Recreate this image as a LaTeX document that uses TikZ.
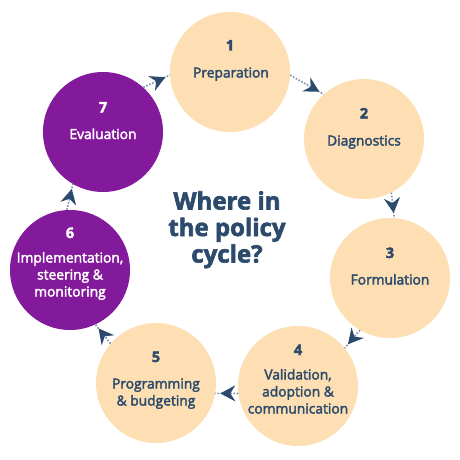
\documentclass[tikz,border=0pt]{standalone}
\usepackage{fontspec}
\setmainfont{Open Sans}
\newfontfamily\labfont{Open Sans}[FakeBold=2.6]
\newfontfamily\ttlfont{Open Sans}[BoldFeatures={FakeBold=2.5}]
\usetikzlibrary{arrows.meta,decorations.markings}
\definecolor{peach}{HTML}{FDDFB3}
\definecolor{plum}{HTML}{821A9B}
\definecolor{navy}{HTML}{2C4A6B}
\definecolor{dotc}{HTML}{7D8FA5}
\begin{document}
\begin{tikzpicture}[x=1pt,y=-1pt,
 stage/.style={circle, minimum size=120pt, inner sep=0pt, draw=none},
 pstage/.style={stage, fill=peach},
 vstage/.style={stage, fill=plum},
 num/.style={anchor=base, inner sep=0pt, text=navy, font=\fontsize{14.5}{14.5}\selectfont\ttlfont\bfseries},
 lab/.style={anchor=base, inner sep=0pt, text=navy, font=\fontsize{13.8}{13.8}\selectfont\labfont},
 ttl/.style={anchor=base, inner sep=0pt, text=navy, font=\fontsize{24}{24}\selectfont\ttlfont\bfseries},
 conn/.style={draw=dotc, line width=1.6pt, dash pattern=on 1.6pt off 1.6pt,
   postaction={decorate},
   decoration={markings, mark=at position -5pt with {\arrow[color=navy]{Stealth[length=15pt,width=16pt,inset=5pt]}}}},
]
\useasboundingbox (0,0) rectangle (460,460);
\fill[white] (0,0) rectangle (460,460);
% stages
\node[pstage] (n1) at (230,72) {};
\node[pstage] (n2) at (364,139) {};
\node[pstage] (n3) at (390,278) {};
\node[pstage] (n4) at (298,386) {};
\node[pstage] (n5) at (156,383) {};
\node[vstage] (n6) at (70,270) {};
\node[vstage] (n7) at (103,132) {};
% connectors
\draw[conn] (n1.-3) -- (n2.132);
\draw[conn] (n2.-63) -- (n3.86);
\draw[conn] (n3.240) -- (n4.39);
\draw[conn] (n4.187) -- (n5.350);
\draw[conn] (n5.139) -- (n6.-65);
\draw[conn] (n6.93) -- (n7.240);
\draw[conn] (n7.48) -- (n1.183);
% texts
\node[num] (t1n) at (230,50.5) {1};
\node[lab] (t1l) at (231,77.5) {Preparation};
\node[num] (t2n) at (364,118.5) {2};
\node[lab] (t2l) at (364,145.5) {Diagnostics};
\node[num] (t3n) at (390,258) {3};
\node[lab] (t3l) at (390,284.5) {Formulation};
\node[num] (t4n) at (298,355) {4};
\node[lab] (t4a) at (298,379.5) {Validation,};
\node[lab] (t4b) at (298,396.5) {adoption \&};
\node[lab] (t4c) at (298,413.5) {communication};
\node[num] (t5n) at (156,362) {5};
\node[lab] (t5a) at (156,388.5) {Programming};
\node[lab] (t5b) at (156,405.5) {\& budgeting};
\node[num, text=white] (t6n) at (70,238) {6};
\node[lab, text=white] (t6a) at (70,262.5) {Implementation,};
\node[lab, text=white] (t6b) at (70,279.5) {steering \&};
\node[lab, text=white] (t6c) at (70,296.5) {monitoring};
\node[num, text=white] (t7n) at (103,112.5) {7};
\node[lab, text=white] (t7l) at (103,139) {Evaluation};
% title
\node[ttl] (q1) at (227,209.5) {Where in};
\node[ttl] (q2) at (227,236) {the policy};
\node[ttl] (q3) at (227,262.5) {cycle?};
\end{tikzpicture}
\end{document}
